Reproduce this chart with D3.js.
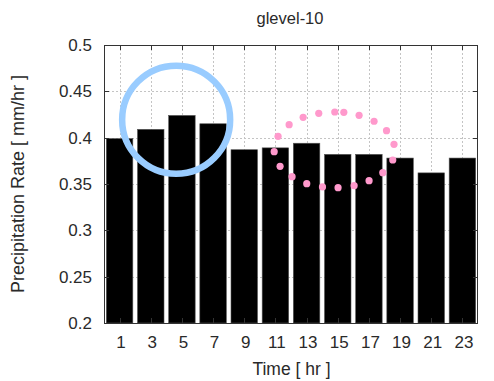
<!DOCTYPE html>
<html>
<head>
<meta charset="utf-8">
<script src="https://cdn.jsdelivr.net/npm/d3@7"></script>
<style>
  html, body { margin: 0; padding: 0; background: #fff; }
  svg { display: block; }
  text { font-family: "Liberation Sans", Arial, Helvetica, sans-serif; fill: #2a2a2a; }
</style>
</head>
<body>
<svg id="chart" width="494" height="381"></svg>
<script>
// Mean precipitation rate per 2-hour bin
const hours = [1, 3, 5, 7, 9, 11, 13, 15, 17, 19, 21, 23];
const rates = [0.399, 0.409, 0.424, 0.415, 0.387, 0.389, 0.394, 0.382, 0.382, 0.378, 0.362, 0.378];
const yTicks = [0.2, 0.25, 0.3, 0.35, 0.4, 0.45, 0.5];
const yTickLabels = ["0.2", "0.25", "0.3", "0.35", "0.4", "0.45", "0.5"];

// Highlight ring around the early peak (hour, rate)
const ringCenter = [4.63, 0.4194];

// Dotted loop marking the afternoon cluster (hour, rate)
const loopHours = [10.92, 11.17, 11.88, 12.78, 13.78, 14.81, 15.39, 16.37, 17.33, 18.13,
                   18.61, 18.53, 17.89, 17.01, 16.05, 15.02, 14.02, 13.01, 12.07, 11.30];
const loopRates = [0.3849, 0.4015, 0.4140, 0.4220, 0.4263, 0.4277, 0.4274, 0.4241, 0.4177, 0.4075,
                   0.3928, 0.3759, 0.3622, 0.3536, 0.3482, 0.3460, 0.3468, 0.3503, 0.3579, 0.3691];

const svg = d3.select("#chart");
const plotL = 104, plotR = 478, plotT = 45, plotB = 323;

const x = d3.scaleLinear().domain([0, 24]).range([plotL, plotR]);
const y = d3.scaleLinear().domain([0.2, 0.5]).range([plotB, plotT]);

// Grid
const grid = svg.append("g").attr("stroke", "#c4c4c4").attr("stroke-width", 1)
  .attr("stroke-dasharray", "2,2");
grid.selectAll("line.v").data(hours).join("line").attr("class", "v")
  .attr("x1", d => Math.round(x(d)) + 0.5).attr("x2", d => Math.round(x(d)) + 0.5)
  .attr("y1", plotT).attr("y2", plotB);
grid.selectAll("line.h").data(yTicks.slice(1, -1)).join("line").attr("class", "h")
  .attr("x1", plotL).attr("x2", plotR)
  .attr("y1", d => Math.round(y(d)) + 0.5).attr("y2", d => Math.round(y(d)) + 0.5);

// Bars
const half = 0.85;
svg.append("g").selectAll("rect").data(hours).join("rect")
  .attr("x", d => x(d - half))
  .attr("width", d => x(d + half) - x(d - half))
  .attr("y", (d, i) => y(rates[i]))
  .attr("height", (d, i) => y(0.2) - y(rates[i]))
  .attr("fill", "#000")
  .attr("stroke", "#555").attr("stroke-width", 0.6);

// Frame and inward ticks
const frame = svg.append("g").attr("stroke", "#333").attr("stroke-width", 1).attr("fill", "none");
frame.append("rect").attr("x", plotL + 0.5).attr("y", plotT + 0.5)
  .attr("width", plotR - plotL - 1).attr("height", plotB - plotT);
const tl = 5;
hours.forEach(h => {
  const px = Math.round(x(h)) + 0.5;
  frame.append("line").attr("x1", px).attr("x2", px).attr("y1", plotT).attr("y2", plotT + tl);
  frame.append("line").attr("x1", px).attr("x2", px).attr("y1", plotB).attr("y2", plotB - tl);
});
yTicks.forEach(v => {
  const py = Math.round(y(v)) + 0.5;
  frame.append("line").attr("x1", plotL).attr("x2", plotL + tl).attr("y1", py).attr("y2", py);
  frame.append("line").attr("x1", plotR).attr("x2", plotR - tl).attr("y1", py).attr("y2", py);
});

// Tick labels
svg.append("g").selectAll("text").data(yTicks).join("text")
  .attr("x", 92).attr("y", d => y(d)).attr("dy", "0.36em")
  .attr("text-anchor", "end").attr("font-size", 17)
  .text((d, i) => yTickLabels[i]);
svg.append("g").selectAll("text").data(hours).join("text")
  .attr("x", d => x(d) + 1.5).attr("y", 348)
  .attr("text-anchor", "middle").attr("font-size", 17)
  .text(d => d);

// Titles
svg.append("text").attr("x", 290).attr("y", 23.5).attr("text-anchor", "middle")
  .attr("font-size", 16.5).text("glevel-10");
svg.append("text").attr("x", 291.5).attr("y", 375).attr("text-anchor", "middle")
  .attr("font-size", 17.5).text("Time [ hr ]");
svg.append("text").attr("transform", `translate(24,${(plotT + plotB) / 2}) rotate(-90)`)
  .attr("text-anchor", "middle").attr("font-size", 18)
  .text("Precipitation Rate [ mm/hr ]");

// Highlight ring
svg.append("circle")
  .attr("cx", x(ringCenter[0])).attr("cy", y(ringCenter[1])).attr("r", 54)
  .attr("fill", "none").attr("stroke", "#99ccff").attr("stroke-width", 6.5);

// Dotted loop
svg.append("g").selectAll("circle").data(loopHours).join("circle")
  .attr("cx", d => x(d)).attr("cy", (d, i) => y(loopRates[i])).attr("r", 3.6)
  .attr("fill", "#ff99cc");
</script>
</body>
</html>
